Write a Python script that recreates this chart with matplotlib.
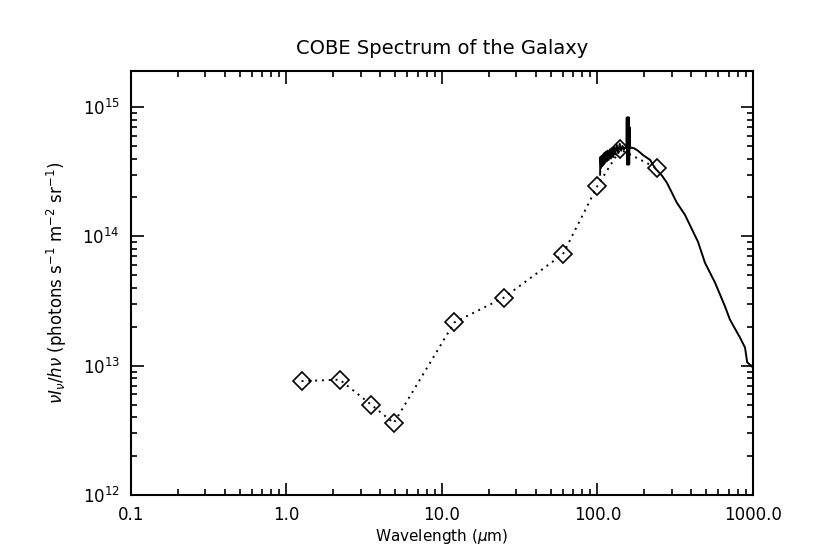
import matplotlib
matplotlib.use("Agg")
import matplotlib.pyplot as plt
from matplotlib.ticker import LogLocator, FixedLocator, FixedFormatter, NullFormatter

# DIRBE band points
dirbe_wl = [1.25, 2.2, 3.5, 4.9, 12.0, 25.0, 60.0, 100.0, 140.0, 240.0]
dirbe_val = [7.6e12, 7.8e12, 5.0e12, 3.6e12, 2.16e13, 3.36e13, 7.3e13, 2.46e14, 4.7e14, 3.38e14]

# FIRAS spectrum (solid curve)
firas_wl = [104, 104.3, 105.5, 106.5, 107.5, 108.5, 109.5, 110.5, 111.5, 113, 114.5, 116,
            118, 120, 122, 124, 126, 128, 130, 133, 136, 139, 142, 145, 148, 151,
            153.5, 154.3, 155.1, 155.9, 156.7, 157.5, 158.3, 159.1, 159.9, 160.7, 161.5,
            165, 172, 182, 196, 218, 234, 260, 280, 324, 365, 443, 491, 570, 661,
            711, 825, 889, 918, 985, 1000]
firas_val = [3.0e14, 4.1e14, 3.4e14, 4.2e14, 3.5e14, 4.3e14, 3.6e14, 4.4e14, 3.7e14,
             4.5e14, 3.8e14, 4.6e14, 3.9e14, 4.7e14, 4.0e14, 4.8e14, 4.1e14, 4.9e14,
             4.3e14, 5.1e14, 4.4e14, 5.2e14, 4.6e14, 5.0e14, 4.7e14, 4.9e14,
             4.8e14, 8.3e14, 3.6e14, 8.3e14, 3.6e14, 8.3e14, 3.6e14, 8.3e14, 3.6e14, 7.0e14, 4.8e14,
             4.85e14, 4.8e14, 4.6e14, 4.26e14, 3.9e14, 3.38e14, 2.95e14, 2.59e14,
             1.82e14, 1.47e14, 9.08e13, 6.26e13, 4.39e13, 2.87e13, 2.27e13, 1.65e13,
             1.38e13, 1.06e13, 9.9e12, 9.6e12]

x_ticks = [0.1, 1.0, 10.0, 100.0, 1000.0]
x_tick_labels = ["0.1", "1.0", "10.0", "100.0", "1000.0"]

plt.rcParams['font.family'] = ['DejaVu Sans']

fig = plt.figure(figsize=(8.3, 5.54), dpi=100)
ax = fig.add_axes([0.1578, 0.1065, 0.7494, 0.7653])

ax.plot(dirbe_wl, dirbe_val, linestyle=(0, (1, 2.5)), color='black', linewidth=1.4,
        marker='D', markersize=9, markerfacecolor='none', markeredgecolor='black',
        markeredgewidth=1.2)
ax.plot(firas_wl, firas_val, '-', color='black', linewidth=1.4)

ax.set_xscale('log')
ax.set_yscale('log')
ax.set_xlim(0.1, 1000)
ax.set_ylim(1e12, 1.9e15)

ax.xaxis.set_major_locator(FixedLocator(x_ticks))
ax.xaxis.set_major_formatter(FixedFormatter(x_tick_labels))
ax.xaxis.set_minor_locator(LogLocator(base=10, subs=range(2, 10), numticks=20))
ax.xaxis.set_minor_formatter(NullFormatter())
ax.yaxis.set_major_locator(LogLocator(base=10, numticks=10))
ax.yaxis.set_minor_locator(LogLocator(base=10, subs=range(2, 10), numticks=20))
ax.yaxis.set_minor_formatter(NullFormatter())

ax.tick_params(which='both', direction='in', top=True, right=True, width=1.2)
ax.tick_params(which='major', length=9, labelsize=12, pad=8)
ax.tick_params(which='minor', length=4.5)
for s in ax.spines.values():
    s.set_linewidth(1.5)

ax.set_title("COBE Spectrum of the Galaxy", fontsize=14, pad=12)
ax.set_xlabel("Wavelength ($\\mu$m)", fontsize=11, labelpad=2)
ax.set_ylabel("$\\nu I_\\nu/h\\nu$ (photons s$^{-1}$ m$^{-2}$ sr$^{-1}$)", fontsize=12, labelpad=10)

fig.savefig("out.png", dpi=100)
